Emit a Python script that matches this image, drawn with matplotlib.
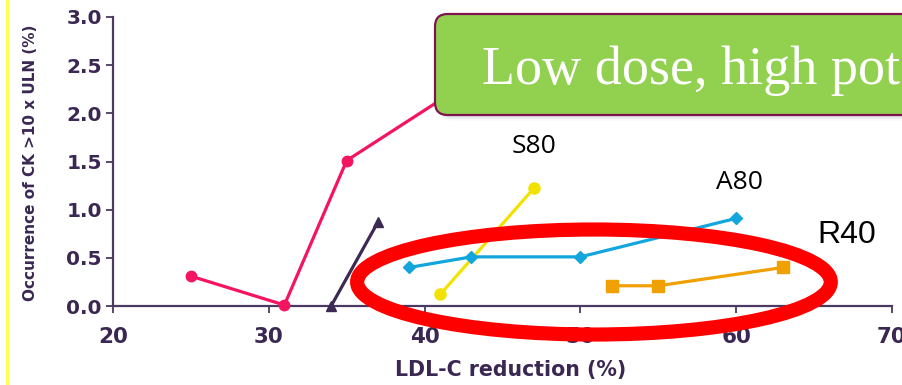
import matplotlib
matplotlib.use("Agg")
import matplotlib.pyplot as plt
from matplotlib.patches import Ellipse, FancyBboxPatch
from matplotlib.lines import Line2D

# ---- data ----
pink_x = [25, 31, 35, 44]
pink_y = [0.31, 0.01, 1.51, 2.45]
tri_x = [34, 37]
tri_y = [0.0, 0.87]
s80_x = [41, 47]
s80_y = [0.12, 1.22]
a80_x = [39, 43, 50, 60]
a80_y = [0.40, 0.51, 0.51, 0.91]
r40_x = [52, 55, 63]
r40_y = [0.21, 0.21, 0.40]
xticks = [20, 30, 40, 50, 60, 70]
yticks = [0.0, 0.5, 1.0, 1.5, 2.0, 2.5, 3.0]
series_labels = ["S80", "A80", "R40"]
callout = "Low dose, high potency"

W, H = 903, 385
fig = plt.figure(figsize=(W / 100, H / 100), dpi=100)
fig.patch.set_facecolor("white")

txt = "#3A2852"
ax = fig.add_axes([113 / W, 1 - 306 / H, (892 - 113) / W, (306 - 17) / H])
ax.set_xlim(20, 70)
ax.set_ylim(0, 3)
for s in ["top", "right"]:
    ax.spines[s].set_visible(False)
for s in ["left", "bottom"]:
    ax.spines[s].set_color("#4A3A62")
    ax.spines[s].set_linewidth(1.6)
ax.set_xticks(xticks)
ax.set_yticks(yticks)
ax.set_xticklabels([str(v) for v in xticks])
ax.set_yticklabels([f"{v:.1f}" for v in yticks])
ax.tick_params(axis="both", direction="out", length=5, width=1.3, colors="#4A3A62",
               labelcolor=txt)
ax.tick_params(axis="x", pad=10)
ax.tick_params(axis="y", pad=3)
for lab in ax.get_xticklabels():
    lab.set_fontfamily("DejaVu Sans")
    lab.set_fontweight("bold")
    lab.set_fontsize(15.5)
for lab in ax.get_yticklabels():
    lab.set_fontfamily("DejaVu Sans")
    lab.set_fontweight("bold")
    lab.set_fontsize(14.5)

ax.set_xlabel("LDL-C reduction (%)", fontsize=14.8, fontweight="bold", color=txt,
              family="DejaVu Sans", va="center")
ax.xaxis.set_label_coords(0.511, -0.222)
ax.set_ylabel("Occurrence of CK >10 x ULN (%)", fontsize=11, fontweight="bold", color=txt,
              family="DejaVu Sans", va="center")
ax.yaxis.set_label_coords(-0.106, 0.495)

lw = 2.3
ax.plot(pink_x, pink_y, color="#F5145F", lw=lw, marker="o", ms=7.5, zorder=3, clip_on=False)
ax.plot(tri_x, tri_y, color="#3C2A55", lw=lw, marker="^", ms=7.5, zorder=3, clip_on=False)
ax.plot(s80_x, s80_y, color="#F2E200", lw=lw, marker="o", ms=8, zorder=3, clip_on=False)
ax.plot(a80_x, a80_y, color="#12A6DC", lw=lw, marker="D", ms=6, zorder=3, clip_on=False)
ax.plot(r40_x, r40_y, color="#F0A000", lw=lw, marker="s", ms=8, zorder=3, clip_on=False)

# series labels
ax.text(47.0, 1.66, series_labels[0], fontsize=19, family="Open Sans", color="black",
        ha="center", va="center")
ax.text(60.2, 1.28, series_labels[1], fontsize=19, family="Open Sans", color="black",
        ha="center", va="center")
ax.text(67.1, 0.74, series_labels[2], fontsize=23, family="Liberation Sans", color="black",
        ha="center", va="center")

# red ellipse
ell = Ellipse((50.87, 0.249), 30.4, 1.09, fill=False, edgecolor="#FF0000", lw=10.2,
              zorder=10, clip_on=False)
ax.add_patch(ell)

# yellow vertical line at left edge
fig.add_artist(Line2D([7 / W, 7 / W], [0, 1], color="#FFFF55", lw=2.2,
                      transform=fig.transFigure))

# callout box with shadow
def fig_box(x0, y0, x1, y1, **kw):
    return FancyBboxPatch((x0 / W, 1 - y1 / H), (x1 - x0) / W, (y1 - y0) / H,
                          boxstyle="round,pad=0,rounding_size=0.014",
                          transform=fig.transFigure, mutation_aspect=W / H, **kw)

for i, a in enumerate([0.10, 0.08, 0.06, 0.04]):
    d = 1 + i * 1.5
    fig.add_artist(fig_box(435 + d, 14 + d, 980 + d, 115 + d, facecolor="#606060",
                           edgecolor="none", alpha=a, zorder=20))
fig.add_artist(fig_box(435, 14, 980, 115, facecolor="#92D050", edgecolor="#7E1450",
                       lw=1.6, zorder=21))
fig.text(482 / W, 1 - 84 / H, callout, fontsize=39, family="Liberation Serif",
         color="white", ha="left", va="baseline", zorder=22)

fig.savefig("out.png", dpi=100, facecolor="white")
